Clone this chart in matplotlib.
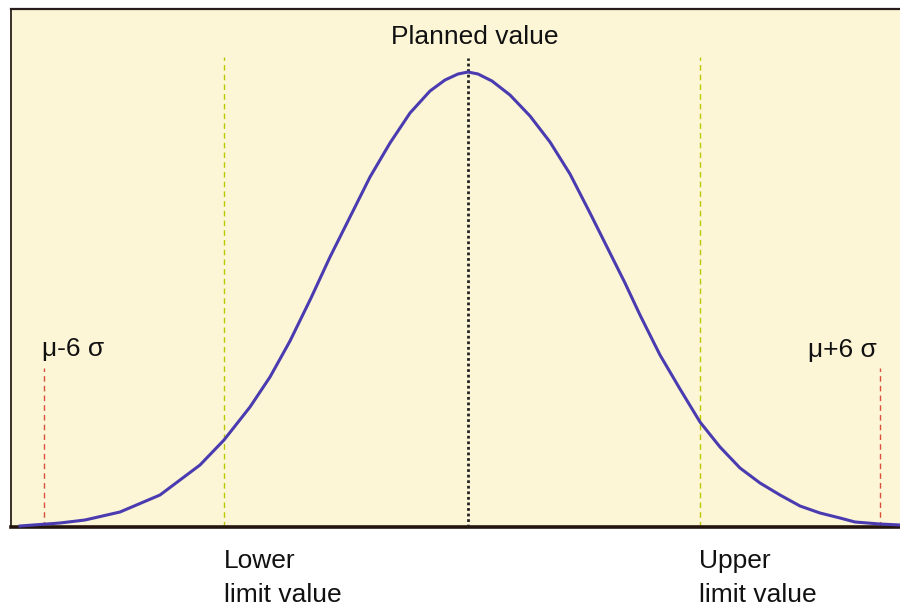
import matplotlib
matplotlib.use("Agg")
import matplotlib.pyplot as plt

# Curve: x position and height above the baseline
curve_x = [20, 60, 85, 120, 160, 200, 224, 250, 270, 290,
           311, 330, 350, 370, 390, 410, 430, 445, 458, 468, 478, 492,
           510, 530, 550, 570, 590, 610, 625, 640, 660, 680,
           700, 720, 740, 760, 780, 800, 820, 840, 855, 880, 900]
curve_h = [1, 4, 7, 15, 32, 62, 87, 120, 150, 186,
           229, 270, 310, 350, 384, 414, 436, 447, 453, 455, 453, 446,
           432, 411, 385, 353, 314, 274, 244, 212, 172, 138,
           105, 80, 59, 44, 32, 21, 14, 9, 5, 3, 2]

# Marker positions
planned_x = 468
lower_limit_x = 224
upper_limit_x = 700
minus6_x = 44
plus6_x = 880
limit_line_top = 470
planned_line_top = 469
sigma_line_top = 159

fig = plt.figure(figsize=(9, 6.11), dpi=100)
ax = fig.add_axes([11 / 900, (611 - 527) / 611, 1 - 11 / 900, (527 - 9) / 611])
ax.set_xlim(11, 900)
ax.set_ylim(0, 518)
ax.set_facecolor("#fdf6d6")
ax.set_xticks([])
ax.set_yticks([])
ax.spines["right"].set_visible(False)
ax.spines["top"].set_color("#2a1c1c")
ax.spines["top"].set_linewidth(1.6)
ax.spines["left"].set_color("#3a3028")
ax.spines["left"].set_linewidth(1.4)
ax.spines["bottom"].set_color("#24140c")
ax.spines["bottom"].set_linewidth(2.6)

ax.vlines([lower_limit_x, upper_limit_x], 0, limit_line_top, colors="#b9c800",
          linestyles=(0, (4, 3)), linewidth=1.0, zorder=2)
ax.vlines([minus6_x, plus6_x], 0, sigma_line_top, colors="#d8503c",
          linestyles=(0, (4, 3)), linewidth=1.0, zorder=2)
ax.vlines([planned_x], 0, planned_line_top, colors="#222222",
          linestyles=(0, (1, 1)), linewidth=2.0, zorder=3)

ax.plot(curve_x, curve_h, color="#4a3cb0", linewidth=2.2, zorder=4,
        solid_joinstyle="round", clip_on=False)

font = dict(family=["Liberation Sans", "DejaVu Sans"], fontsize=19, color="#111111")
ax.text(475, 483, "Planned value", ha="center", va="baseline", **font)
ax.text(42, 171, "μ-6 σ", ha="left", va="baseline", **font)
ax.text(808, 170, "μ+6 σ", ha="left", va="baseline", **font)
ax.text(lower_limit_x, -41, "Lower", ha="left", va="baseline", clip_on=False, **font)
ax.text(lower_limit_x, -75, "limit value", ha="left", va="baseline", clip_on=False, **font)
ax.text(upper_limit_x - 1, -41, "Upper", ha="left", va="baseline", clip_on=False, **font)
ax.text(upper_limit_x - 1, -75, "limit value", ha="left", va="baseline", clip_on=False, **font)

fig.savefig("out.png", dpi=100, facecolor="white")
